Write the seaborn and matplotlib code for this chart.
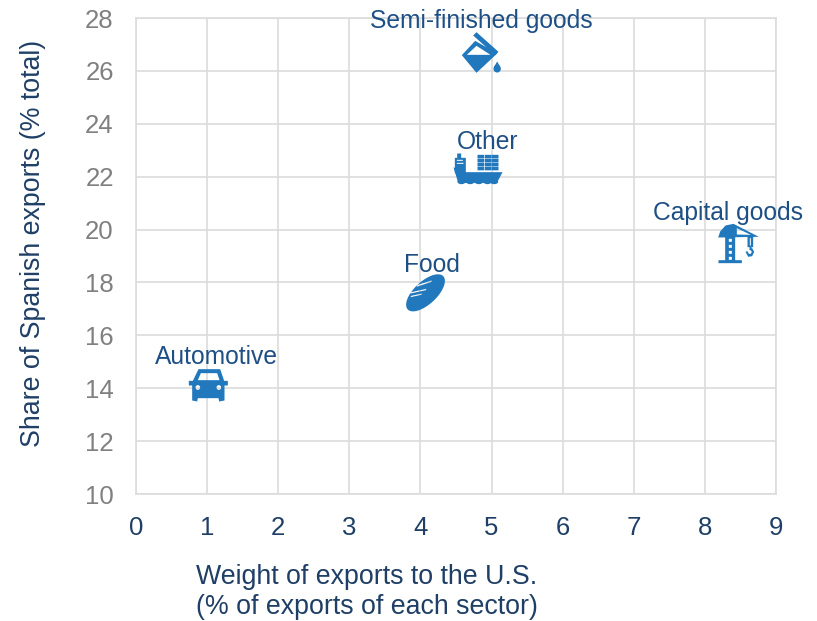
import numpy as np
import pandas as pd
import matplotlib
matplotlib.use("Agg")
import matplotlib.pyplot as plt
from matplotlib.path import Path
import seaborn as sns

# ---- data ----
sectors = ["Semi-finished goods", "Other", "Capital goods", "Food", "Automotive"]
weight_us = [4.84, 4.79, 8.47, 4.07, 1.015]
share_exports = [26.66, 22.29, 19.48, 17.63, 14.12]
x_ticks = [0, 1, 2, 3, 4, 5, 6, 7, 8, 9]
y_ticks = [10, 12, 14, 16, 18, 20, 22, 24, 26, 28]
x_title = "Weight of exports to the U.S.\n(% of exports of each sector)"
y_title = "Share of Spanish exports (% total)"

# ---- style ----
ICON = "#2178BC"
LABEL = "#1D4F85"
TITLE = "#1F3F66"
TICK = "#808080"
GRID = "#DCDCDC"

sns.set_theme(style="white")
plt.rcParams["font.family"] = ["Liberation Sans", "DejaVu Sans"]


# ---- pictogram helpers (units: zoomed pixels, 3 per image pixel) ----
def area(p):
    p = np.asarray(p, float)
    return 0.5 * np.sum(p[:, 0] * np.roll(p[:, 1], -1) - np.roll(p[:, 0], -1) * p[:, 1])


def poly(pts, hole=False):
    pts = np.asarray(pts, float)
    if (area(pts) > 0) == hole:
        pts = pts[::-1]
    return pts


def rect(x0, y0, x1, y1, hole=False):
    return poly([(x0, y0), (x1, y0), (x1, y1), (x0, y1)], hole)


def ellipse(cx, cy, a, b=None, ang=0.0, hole=False, n=48):
    b = a if b is None else b
    t = np.linspace(0, 2 * np.pi, n, endpoint=False)
    c, s = np.cos(np.radians(ang)), np.sin(np.radians(ang))
    ex, ey = a * np.cos(t), b * np.sin(t)
    return poly(np.c_[cx + ex * c - ey * s, cy + ex * s + ey * c], hole)


def icon(parts, cx, cy):
    """Return (marker path, s) from polygons, keeping 1 zoomed px = 1/3 image px."""
    paths = []
    for p in parts:
        v = np.c_[p[:, 0] - cx, -(p[:, 1] - cy)]
        v = np.vstack([v, v[0]])
        codes = [Path.MOVETO] + [Path.LINETO] * (len(v) - 2) + [Path.CLOSEPOLY]
        paths.append(Path(v, codes))
    path = Path.make_compound_path(*paths)
    r = np.abs(path.vertices).max()
    size_px = 2 * r / 3
    return path, (size_px * 0.72) ** 2


bucket = [
    poly([(98, 46), (108, 36), (174, 95), (164, 105)]),
    poly([(64, 105), (104, 62), (170, 100), (108, 158)]),
    poly([(79, 104), (108, 77), (150, 104)], hole=True),
    ellipse(170, 146, 11),
    poly([(160, 141), (170, 124), (180, 141)]),
]

ship = [
    poly([(38, 440), (62, 455), (185, 455), (172, 480), (162, 487), (52, 487)]),
    rect(42, 412, 75, 458),
    rect(49, 399, 61, 412),
    rect(48, 418, 66, 421, hole=True),
    rect(48, 427, 68, 430, hole=True),
]
for wave_x in (62, 88, 114, 140, 160):
    ship.append(ellipse(wave_x, 484, 12, 7))
for cx0 in (110, 132, 153):
    for cy0 in (403, 415, 427, 439):
        ship.append(rect(cx0, cy0, cx0 + 20, cy0 + 10.5))

crane = [
    rect(75, 76, 105, 150),
    rect(55, 150, 125, 159),
    poly([(54, 82), (60, 64), (76, 46), (100, 41), (176, 80)]),
    poly([(110, 54), (152, 74), (110, 73)], hole=True),
    rect(86, 86, 95, 95, hole=True),
    rect(86, 104, 95, 113, hole=True),
    rect(86, 122, 95, 131, hole=True),
    rect(86, 140, 95, 149, hole=True),
    rect(142, 80, 159, 111),
    rect(149, 84, 152, 106, hole=True),
    rect(148, 111, 154, 120),
    poly([(136, 125), (142, 123), (146, 131), (152, 131), (155, 125), (150, 118), (156, 114),
          (162, 125), (156, 138), (144, 140)]),
]

car = [
    poly([(85, 326), (150, 326), (162, 361), (173, 361), (173, 375), (163, 375),
          (163, 420), (147, 423), (145, 413), (83, 413), (81, 423), (66, 420),
          (66, 375), (56, 375), (56, 361), (68, 361)]),
    poly([(92, 338), (141, 338), (148, 359), (83, 359)], hole=True),
    ellipse(83, 381, 7, hole=True),
    ellipse(146, 381, 7, hole=True),
]

bread = [
    ellipse(765, 98, 73, 34, ang=-43),
    poly([(742, 74), (783, 61), (783, 65), (738, 80)], hole=True),
    poly([(722, 96), (768, 86), (766, 90), (720, 100)], hole=True),
    poly([(722, 107), (755, 100), (752, 104), (720, 111)], hole=True),
]

icons = {
    "Semi-finished goods": icon(bucket, 120, 100),
    "Other": icon(ship, 110, 447),
    "Capital goods": icon(crane, 115, 100),
    "Food": icon(bread, 765, 97),
    "Automotive": icon(car, 115, 375),
}
# label-centre offset from each icon centre, image pixels (right, up)
label_offsets = {
    "Semi-finished goods": (1, 32),
    "Other": (11, 27),
    "Capital goods": (-10, 30),
    "Food": (7, 27),
    "Automotive": (8, 28),
}

df = pd.DataFrame({"sector": sectors, "weight": weight_us, "share": share_exports})

# ---- figure ----
W, H = 817, 621
fig = plt.figure(figsize=(W / 100, H / 100), dpi=100, facecolor="white")
ax = fig.add_axes([136 / W, 1 - 494 / H, 640 / W, 476 / H])

for _, row in df.iterrows():
    path, s = icons[row["sector"]]
    sns.scatterplot(data=df[df["sector"] == row["sector"]], x="weight", y="share",
                    marker=path, s=s, color=ICON, linewidth=0, ax=ax, zorder=3,
                    legend=False, clip_on=False)
    dx, dy = label_offsets[row["sector"]]
    ax.annotate(row["sector"], (row["weight"], row["share"]),
                xytext=(dx * 0.72, dy * 0.72), textcoords="offset points",
                ha="center", va="center", fontsize=17.7, color=LABEL, zorder=4)

ax.set_xlim(0, 9)
ax.set_ylim(10, 28)
ax.set_xticks(x_ticks)
ax.set_yticks(y_ticks)
ax.grid(True, color=GRID, linewidth=1.2)
ax.set_axisbelow(True)
for sp in ax.spines.values():
    sp.set_color(GRID)
    sp.set_linewidth(1.2)
ax.tick_params(axis="x", length=5.8, width=1.2, color=GRID, pad=10,
               labelsize=18.5, labelcolor=TITLE)
ax.tick_params(axis="y", length=0, pad=16, labelsize=18.5, labelcolor=TICK)
ax.set_xlabel("")
ax.set_ylabel("")

fig.text(367 / W, 1 - 592 / H, x_title, ha="center", va="center", fontsize=19.3,
         color=TITLE, linespacing=1.2)
fig.text(33 / W, 1 - 243 / H, y_title, rotation=90, ha="center", va="center",
         fontsize=19.3, color=TITLE)

fig.savefig("out.png", dpi=100)
